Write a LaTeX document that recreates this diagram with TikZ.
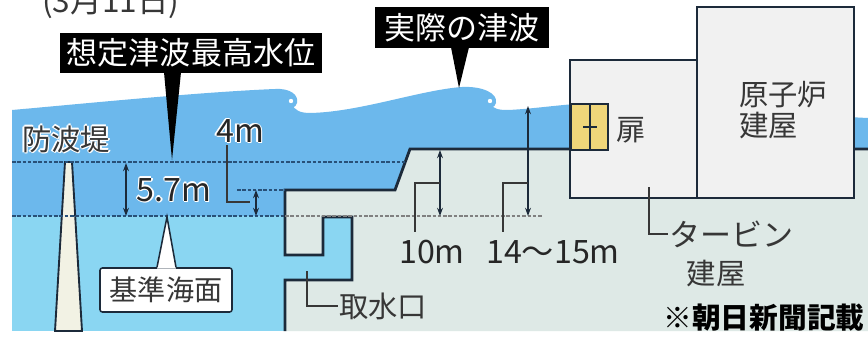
\documentclass[tikz,border=0pt]{standalone}
\usepackage{fontspec}
\setmainfont{Noto Sans CJK JP}
\usepackage{tikz}
\usetikzlibrary{positioning,arrows.meta,calc}

\definecolor{tsunami}{RGB}{108,184,236}
\definecolor{sea}{RGB}{138,214,242}
\definecolor{land}{RGB}{222,233,230}
\definecolor{bldg}{RGB}{241,241,241}
\definecolor{ink}{RGB}{28,42,58}
\definecolor{doorfill}{RGB}{239,214,122}
\definecolor{wallfill}{RGB}{242,242,228}
\definecolor{txt}{RGB}{55,55,55}
\definecolor{level}{RGB}{40,80,120}

\newcommand{\halo}[1]{\leavevmode
  \rlap{\textcolor{white}{\kern-1.2pt#1}}\rlap{\textcolor{white}{\kern1.2pt#1}}%
  \rlap{\textcolor{white}{\raisebox{1.2pt}{#1}}}\rlap{\textcolor{white}{\raisebox{-1.2pt}{#1}}}%
  \rlap{\textcolor{white}{\kern-.9pt\raisebox{.9pt}{#1}}}\rlap{\textcolor{white}{\kern.9pt\raisebox{-.9pt}{#1}}}%
  #1}

\begin{document}
\begin{tikzpicture}[
    x=0.03cm, y=-0.03cm,
    outline/.style={draw=ink, line width=2.4pt, line join=miter},
    wall/.style={draw=ink, line width=1.6pt},
    levelline/.style={draw=level, line width=1.1pt, dash pattern=on 3pt off 1.5pt},
    dim/.style={{Stealth[length=7pt,width=5pt]}-{Stealth[length=7pt,width=5pt]}, draw=ink, line width=1.1pt},
    leader/.style={draw=txt, line width=1.1pt},
    lbl/.style={text=txt, font=\fontsize{25}{27}\selectfont, inner sep=1pt},
    num/.style={text=black!85, font=\fontsize{27.5}{29}\selectfont, inner sep=1pt},
    tag/.style={fill=black, text=white, font=\fontsize{26.5}{28}\selectfont, inner sep=0pt}
]
\useasboundingbox (0,0) rectangle (868,337);
\fill[white] (0,0) rectangle (868,337);

\fill[tsunami] (12,110) .. controls (80,104) and (200,92) .. (275,89)
  .. controls (290,88) and (299,95) .. (297,103)
  .. controls (296,108) and (290,109) .. (288,105)
  .. controls (287,102) and (291,100) .. (292,104)
  .. controls (294,110) and (300,113) .. (310,113)
  .. controls (360,112) and (420,90) .. (462,87)
  .. controls (482,86) and (498,93) .. (496,103)
  .. controls (495,108) and (489,109) .. (487,105)
  .. controls (486,102) and (490,100) .. (491,104)
  .. controls (493,109) and (499,110) .. (508,110)
  .. controls (530,109) and (550,106) .. (575,104)
  -- (868,118) -- (868,216) -- (12,216) -- cycle;
\fill[white] (291,101) circle (2.2);
\fill[white] (490,101) circle (2.2);
\fill[sea] (12,216) rectangle (868,331);

\fill[land] (285,331) -- (285,280) -- (352,280) -- (352,217) -- (323,217) -- (323,255)
  -- (285,255) -- (285,190) -- (395,190) -- (410,149) -- (868,149) -- (868,331) -- cycle;
\draw[outline] (285,331) -- (285,280) -- (352,280) -- (352,217) -- (323,217) -- (323,255)
  -- (285,255) -- (285,190) -- (395,190) -- (410,149) -- (868,149);

\draw[wall, fill=wallfill] (65,162) -- (72,162) -- (82,331) -- (55,331) -- cycle;

\draw[levelline] (12,162) -- (405,162);
\draw[levelline] (12,216) -- (285,216);
\draw[levelline, draw=gray] (285,216) -- (543,216);
\draw[levelline] (237,190) -- (285,190);

\draw[wall, fill=bldg] (570,60) rectangle (697,198);
\draw[wall, fill=bldg] (697,7) rectangle (854,198);
\draw[wall, fill=doorfill] (571,104) rectangle (608,150);
\draw[ink, line width=1.8pt] (590,104) -- (590,150);
\draw[ink, line width=1.5pt] (583,127) -- (597,127);

\draw[dim] (126,163) -- (126,216);
\draw[dim] (256,190) -- (256,216);
\draw[dim] (440,150) -- (440,216);
\draw[dim] (528,106) -- (528,216);

\node[lbl] (breakwater) at (66,139) {\halo{防波堤}};
\node[num] (m4) at (240,131) {\halo{4m}};
\node[num] (m57) at (174,190) {\halo{5.7m}};
\node[num] (m10) at (432,252) {10m};
\node[num] (m1415) at (553,252) {14～15m};
\node[lbl] (intake) at (383,306) {取水口};
\node[lbl] (door) at (631,130) {扉};
\node[lbl, align=left] (reactor) at (783,110) {原子炉\\建屋};
\node[lbl, anchor=west, font=\fontsize{26.5}{28}\selectfont] (turbine) at (668,234) {タービン};
\node[lbl] (turbine2) at (716,274) {建屋};
\node[font=\bfseries\fontsize{24.5}{26}\selectfont] (source) at (764,318) {※朝日新聞記載};
\node[text=txt, font=\fontsize{27}{29}\selectfont, anchor=base west] (date) at (38,12.5) {(3月11日)};

\coordinate (quay4) at (250,202);
\coordinate (gauge10) at (440,183);
\coordinate (foot10) at (415,232);
\coordinate (gauge15) at (528,183);
\coordinate (foot15) at (503,232);
\coordinate (channel) at (307,271);
\coordinate (turbwall) at (649,187);
\draw[leader] ($(m4.south)+(-13,0)$) |- (quay4);
\draw[leader] (gauge10) -| (foot10);
\draw[leader] (gauge15) -| (foot15);
\draw[leader] (channel) |- (intake.west);
\draw[leader] (turbwall) |- (turbine.west);

\node[draw=ink, line width=1.3pt, fill=white, rounded corners=2pt, minimum width=3.96cm,
  minimum height=1.32cm, text=txt, font=\fontsize{24}{26}\selectfont] (baselvl) at (166,290) {基準海面};
\coordinate (basetip) at (167,217);
\fill[white] ($(baselvl.north)+(-9,1.5)$) -- (basetip) -- ($(baselvl.north)+(10,1.5)$) -- cycle;
\draw[ink, line width=1.3pt] ($(baselvl.north)+(-9,0)$) -- (basetip) -- ($(baselvl.north)+(10,0)$);

\node[tag, minimum width=7.86cm, minimum height=1.2cm] (tagmax) at (191,53) {想定津波最高水位};
\node[tag, minimum width=5.22cm, minimum height=1.23cm] (tagreal) at (462,27.5) {実際の津波};
\coordinate (maxtip) at (172,160);
\coordinate (realtip) at (459,88);
\fill (maxtip) -- ($(tagmax.south)+(-27,-1)$) -- ($(tagmax.south)+(-10,-1)$) -- cycle;
\fill (realtip) -- ($(tagreal.south)+(-11,-1)$) -- ($(tagreal.south)+(7,-1)$) -- cycle;
\end{tikzpicture}
\end{document}
